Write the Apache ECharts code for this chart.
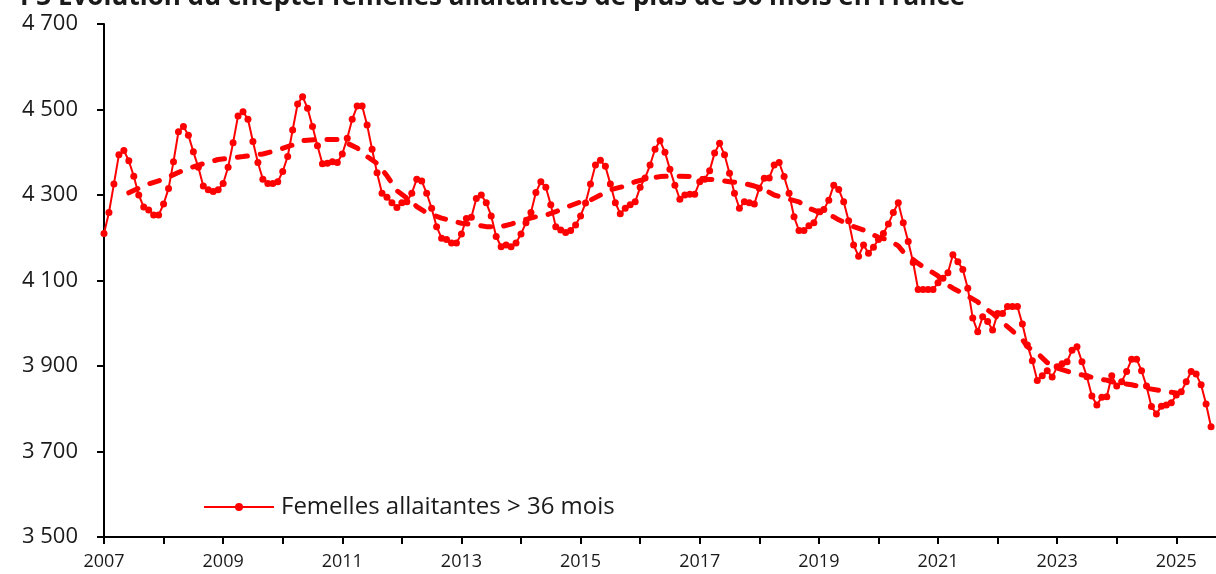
<!DOCTYPE html>
<html>
<head>
<meta charset="utf-8">
<script src="https://cdn.jsdelivr.net/npm/echarts@6/dist/echarts.min.js"></script>
<style>
  html, body { margin: 0; padding: 0; background: #fff; }
  #chart { width: 1216px; height: 574px; }
</style>
</head>
<body>
<div id="chart"></div>
<script>
// cheptel mensuel (milliers de têtes), janv. 2007 -> août 2025
const cheptel = [
  4210, 4259, 4326, 4394, 4404, 4380, 4344, 4300, 4272, 4265, 4253, 4253, // 2007
  4279, 4315, 4378, 4448, 4460, 4440, 4401, 4365, 4321, 4312, 4308, 4312, // 2008
  4327, 4365, 4422, 4485, 4495, 4477, 4425, 4376, 4337, 4327, 4327, 4331, // 2009
  4355, 4390, 4452, 4513, 4530, 4503, 4460, 4415, 4373, 4374, 4378, 4376, // 2010
  4396, 4433, 4477, 4508, 4508, 4464, 4407, 4352, 4304, 4295, 4282, 4271, // 2011
  4282, 4284, 4304, 4337, 4333, 4304, 4269, 4226, 4199, 4196, 4188, 4188, // 2012
  4209, 4245, 4248, 4292, 4300, 4282, 4251, 4203, 4179, 4183, 4179, 4188, // 2013
  4209, 4235, 4259, 4306, 4331, 4318, 4277, 4226, 4218, 4212, 4217, 4230, // 2014
  4251, 4281, 4326, 4370, 4381, 4367, 4326, 4282, 4256, 4269, 4277, 4284, // 2015
  4318, 4340, 4370, 4407, 4427, 4400, 4360, 4323, 4290, 4300, 4302, 4302, // 2016
  4331, 4337, 4357, 4398, 4421, 4394, 4351, 4304, 4269, 4284, 4282, 4279, // 2017
  4316, 4339, 4340, 4370, 4376, 4343, 4304, 4249, 4217, 4217, 4228, 4235, // 2018
  4261, 4266, 4288, 4323, 4313, 4284, 4240, 4183, 4157, 4183, 4164, 4178, // 2019
  4196, 4210, 4232, 4259, 4282, 4235, 4191, 4142, 4079, 4079, 4079, 4079, // 2020
  4095, 4105, 4118, 4160, 4144, 4126, 4082, 4012, 3980, 4015, 4004, 3984, // 2021
  4023, 4023, 4039, 4039, 4039, 3998, 3949, 3912, 3866, 3877, 3889, 3874, // 2022
  3898, 3905, 3910, 3937, 3945, 3910, 3875, 3830, 3809, 3827, 3828, 3877, // 2023
  3853, 3863, 3887, 3916, 3916, 3889, 3853, 3805, 3788, 3806, 3809, 3814, // 2024
  3832, 3840, 3863, 3887, 3881, 3856, 3811, 3758                          // 2025
];

// tendance (pointillés) : [indice du mois depuis janv. 2007, valeur]
const tendance = [
  [5, 4305], [7, 4316], [9, 4326], [12, 4337], [16, 4358], [19, 4370],
  [23, 4383], [28, 4390], [32, 4396], [35, 4405], [38, 4417], [40, 4427],
  [43, 4430], [47, 4430], [49, 4421], [51, 4410], [53, 4390], [55, 4374],
  [57, 4345], [59, 4310], [61, 4293], [63, 4273], [65, 4258], [68, 4246],
  [70, 4240], [72, 4234], [75, 4230], [77, 4226], [80, 4226], [82, 4232],
  [85, 4243], [87, 4249], [89, 4253], [91, 4261], [93, 4271], [96, 4284],
  [98, 4288], [100, 4300], [102, 4312], [105, 4321], [107, 4331], [109, 4337],
  [112, 4343], [114, 4344], [116, 4344], [119, 4343], [121, 4337], [124, 4335],
  [126, 4331], [129, 4327], [131, 4321], [133, 4313], [135, 4300], [138, 4290],
  [140, 4284], [142, 4269], [144, 4260], [147, 4249], [148, 4242], [151, 4226],
  [153, 4218], [156, 4201], [158, 4195], [160, 4181], [161, 4167], [164, 4140],
  [165, 4132], [168, 4111], [169, 4097], [171, 4082], [173, 4070], [176, 4050],
  [177, 4039], [179, 4023], [181, 4002], [183, 3982], [185, 3962], [186, 3945],
  [188, 3930], [190, 3908], [192, 3895], [195, 3884], [198, 3877], [200, 3870],
  [202, 3867], [203, 3863], [207, 3856], [210, 3848], [214, 3840], [216, 3837]
];

const yTicks = [3500, 3700, 3900, 4100, 4300, 4500, 4700];

// catégories mensuelles : janv. 2007 -> sept. 2025
const mois = [];
for (let i = 0; i < 225; i++) {
  const y = 2007 + Math.floor(i / 12);
  const m = (i % 12) + 1;
  mois.push(y + '-' + (m < 10 ? '0' + m : m));
}

const chart = echarts.init(document.getElementById('chart'));

chart.setOption({
  animation: false,
  backgroundColor: '#fff',
  title: {
    text: 'P3 Évolution du cheptel femelles allaitantes de plus de 36 mois en France',
    left: 15,
    top: -20,
    textStyle: {
      fontFamily: 'Open Sans',
      fontSize: 26,
      fontWeight: 'bold',
      color: '#1a1a1a'
    }
  },
  legend: {
    data: ['Femelles allaitantes > 36 mois'],
    left: 198,
    top: 490,
    itemWidth: 70,
    itemHeight: 10,
    textStyle: {
      fontFamily: 'Open Sans',
      fontSize: 24,
      color: '#1a1a1a',
      padding: [0, 0, 0, 2]
    }
  },
  grid: {
    left: 104,
    right: 0,
    top: 24,
    bottom: 37
  },
  xAxis: {
    type: 'category',
    data: mois,
    boundaryGap: false,
    axisLine: { lineStyle: { color: '#000', width: 2 } },
    axisTick: {
      length: 7,
      lineStyle: { color: '#000', width: 2 },
      interval: function (index) { return index % 12 === 0; }
    },
    axisLabel: {
      interval: function (index) { return index % 24 === 0; },
      formatter: function (v) { return v.slice(0, 4); },
      margin: 16,
      fontFamily: 'Open Sans',
      fontSize: 18,
      color: '#1a1a1a'
    },
    splitLine: { show: false }
  },
  yAxis: {
    type: 'value',
    min: yTicks[0],
    max: yTicks[yTicks.length - 1],
    interval: 200,
    axisLine: { show: true, lineStyle: { color: '#000', width: 2 } },
    axisTick: { show: true, length: 7, lineStyle: { color: '#000', width: 2 } },
    axisLabel: {
      margin: 26,
      fontFamily: 'Open Sans',
      fontSize: 22,
      color: '#1a1a1a',
      formatter: function (v) {
        return String(v).replace(/\B(?=(\d{3})+(?!\d))/g, ' ');
      }
    },
    splitLine: { show: false }
  },
  series: [
    {
      name: 'Femelles allaitantes > 36 mois',
      type: 'line',
      data: cheptel,
      symbol: 'circle',
      symbolSize: 7,
      showAllSymbol: true,
      itemStyle: { color: '#ff0000' },
      lineStyle: { color: '#ff0000', width: 2 },
      z: 3
    },
    {
      name: 'Tendance',
      type: 'line',
      data: tendance.map(function (d) { return [mois[d[0]], d[1]]; }),
      symbol: 'none',
      lineStyle: {
        color: '#ff0000',
        width: 5,
        type: [10, 13],
        cap: 'round'
      },
      z: 2
    }
  ]
});
</script>
</body>
</html>
